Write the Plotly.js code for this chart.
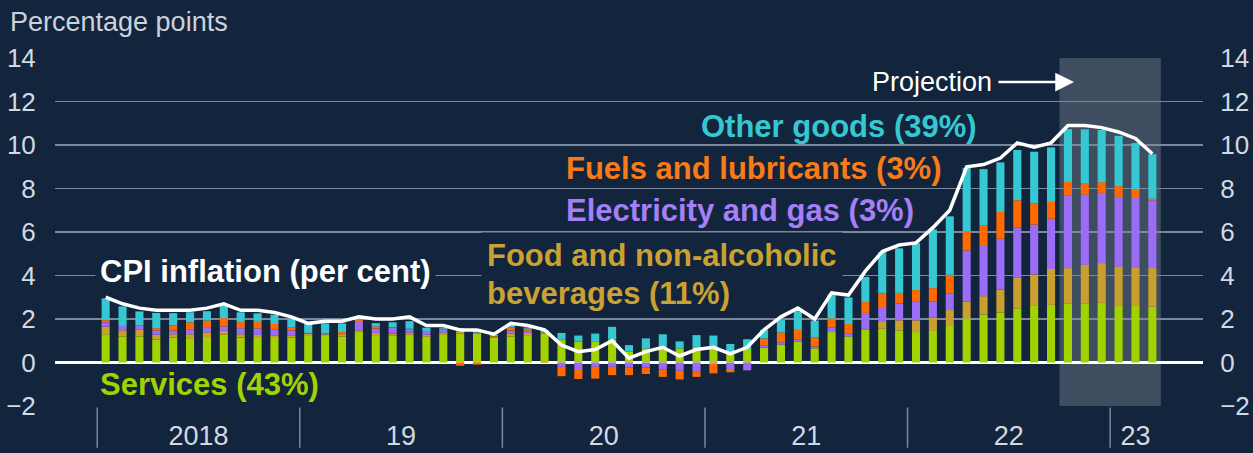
<!DOCTYPE html>
<html><head><meta charset="utf-8">
<script src="https://cdn.plot.ly/plotly-3.0.1.min.js"></script>
<style>html,body{margin:0;padding:0;background:#13243d;}#chart{width:1253px;height:453px;}</style>
</head><body><div id="chart"></div><script>
const months = [
'2018-01','2018-02','2018-03','2018-04','2018-05','2018-06','2018-07','2018-08','2018-09','2018-10','2018-11','2018-12',
'2019-01','2019-02','2019-03','2019-04','2019-05','2019-06','2019-07','2019-08','2019-09','2019-10','2019-11','2019-12',
'2020-01','2020-02','2020-03','2020-04','2020-05','2020-06','2020-07','2020-08','2020-09','2020-10','2020-11','2020-12',
'2021-01','2021-02','2021-03','2021-04','2021-05','2021-06','2021-07','2021-08','2021-09','2021-10','2021-11','2021-12',
'2022-01','2022-02','2022-03','2022-04','2022-05','2022-06','2022-07','2022-08','2022-09','2022-10','2022-11','2022-12',
'2023-01','2023-02','2023-03'];
const cpi = [
3.0,2.7,2.5,2.4,2.4,2.4,2.5,2.7,2.4,2.4,2.3,2.1,
1.8,1.9,1.9,2.1,2.0,2.0,2.1,1.7,1.7,1.5,1.5,1.3,
1.8,1.7,1.5,0.8,0.5,0.6,1.0,0.2,0.5,0.7,0.3,0.6,
0.7,0.4,0.7,1.5,2.1,2.5,2.0,3.2,3.1,4.2,5.1,5.4,
5.5,6.2,7.0,9.0,9.1,9.4,10.1,9.9,10.1,10.9,10.9,10.8,
10.6,10.3,9.6];
const services = [
1.30,1.20,1.20,1.05,1.15,1.12,1.17,1.28,1.15,1.17,1.17,1.15,
1.22,1.22,1.20,1.40,1.26,1.23,1.28,1.18,1.30,1.32,1.32,1.15,
1.20,1.26,1.34,1.06,0.95,0.95,1.06,0.50,0.65,0.72,0.65,0.72,
0.62,0.45,0.62,0.68,0.83,0.95,0.65,1.40,1.20,1.50,1.55,1.48,
1.40,1.45,1.72,2.03,2.20,2.30,2.49,2.60,2.65,2.72,2.72,2.75,
2.60,2.60,2.57];
const food = [
0.35,0.28,0.30,0.23,0.15,0.18,0.22,0.18,0.15,0.10,0.08,0.10,
0.10,0.08,0.10,0.08,0.10,0.10,0.10,0.10,0.08,0.10,0.05,0.05,
0.12,0.10,0.05,0.00,0.03,0.00,0.00,0.00,0.00,0.00,0.00,0.00,
0.00,0.00,0.00,0.00,0.00,0.00,0.00,0.00,0.00,0.00,0.35,0.46,
0.54,0.60,0.69,0.77,0.85,1.05,1.40,1.45,1.65,1.62,1.77,1.82,
1.82,1.78,1.77];
const elecGas = [
0.20,0.20,0.20,0.20,0.17,0.20,0.20,0.20,0.28,0.30,0.26,0.23,
0.02,0.02,0.00,0.38,0.20,0.28,0.15,0.17,0.15,0.05,0.02,0.00,
0.15,0.10,0.00,-0.20,-0.30,-0.20,-0.20,-0.23,-0.23,-0.32,-0.38,-0.43,
-0.05,-0.30,-0.36,0.10,0.10,0.10,0.08,0.20,0.12,0.78,0.65,0.77,
0.85,0.75,0.77,2.35,2.35,2.34,2.31,2.29,2.31,3.34,3.23,3.23,
3.20,3.18,3.11];
const fuels = [
0.10,0.00,0.00,0.10,0.23,0.35,0.34,0.38,0.28,0.34,0.26,0.14,
0.02,0.03,0.10,0.12,0.10,0.02,0.02,0.00,0.02,-0.15,-0.10,0.02,
0.15,0.10,-0.02,-0.43,-0.46,-0.54,-0.38,-0.35,-0.30,-0.34,-0.40,-0.23,
-0.45,-0.15,0.00,0.32,0.45,0.45,0.43,0.43,0.45,0.50,0.62,0.49,
0.54,0.62,0.85,0.88,0.92,1.23,1.26,0.97,0.77,0.62,0.51,0.49,
0.49,0.38,0.08];
const otherGoods = [
1.00,0.90,0.65,0.70,0.57,0.46,0.43,0.58,0.45,0.35,0.43,0.38,
0.47,0.45,0.40,0.10,0.15,0.22,0.35,0.15,0.05,0.10,0.15,0.05,
0.15,0.05,0.10,0.30,0.26,0.38,0.58,0.30,0.46,0.58,0.32,0.54,
0.62,0.40,0.45,0.40,0.58,0.86,0.77,1.10,1.22,1.15,1.90,2.05,
2.15,2.70,2.69,2.92,2.57,2.28,2.31,2.38,2.51,2.43,2.49,2.40,
2.31,2.15,2.05];
const years = ['2018','2019','2020','2021','2022','2023'];
const yearLabels = ['2018','19','20','21','22','23'];
const projectionStart = '2022-10';

const BG = '#13243d';
const GRID = '#7a889d';
const TICK = '#d3d9e2';
const FONT = 'Liberation Sans, Arial, Helvetica, sans-serif';
const C = {services:'#a2d200', food:'#c9a030', elec:'#9b6cf5', fuels:'#ff6a00', other:'#36c8d2'};

const x = months.map((m,i)=>i);
const yearCenters = years.map(y=>{const idx=x.filter(i=>months[i].startsWith(y));return idx.reduce((a,b)=>a+b,0)/idx.length;});
const yearStarts = years.map(y=>months.findIndex(m=>m.startsWith(y))-0.5);
const projX0 = months.indexOf(projectionStart)-0.5;
const projX1 = months.length-0.5;

function bar(name, y, color){
  return {type:'bar', name, x, y, marker:{color, line:{width:0}}, hoverinfo:'x+y+name', showlegend:false};
}
const traces = [
  bar('Services', services, C.services),
  bar('Food and non-alcoholic beverages', food, C.food),
  bar('Electricity and gas', elecGas, C.elec),
  bar('Fuels and lubricants', fuels, C.fuels),
  bar('Other goods', otherGoods, C.other),
  {type:'scatter', mode:'lines', name:'CPI inflation', x, y:cpi, line:{color:'#ffffff', width:3.5}, showlegend:false},
  {type:'scatter', mode:'lines', x, y:cpi, yaxis:'y2', line:{width:0, color:'rgba(0,0,0,0)'}, hoverinfo:'skip', showlegend:false}
];

const PL=55, PR=1203, PT=58, PB=406;
const px = v => (v-PL)/(PR-PL);
const py = v => (PB-v)/(PB-PT);
const lab = (text, color, left, ymid, opts={}) => Object.assign({
  text, xref:'paper', yref:'paper', x:px(left), y:py(ymid), xanchor:'left', yanchor:'middle',
  showarrow:false, font:{family:FONT, size:31, color, weight:'bold'}
}, opts);

const shapes = [
  {type:'rect', xref:'x', yref:'paper', x0:projX0, x1:projX1, y0:0, y1:1, fillcolor:'rgba(255,255,255,0.19)', line:{width:0}, layer:'below'}
].concat(yearStarts.map(v=>({type:'line', xref:'x', yref:'paper', x0:v, x1:v, y0:-0.004, y1:-0.12, line:{color:GRID, width:1.5}})));

const annotations = [
  lab('Other goods (39%)', C.other, 699, 126),
  lab('Fuels and lubricants (3%)', '#f77b16', 564, 168),
  lab('Electricity and gas (3%)', '#a47ff6', 564, 210),
  lab('Food and non-alcoholic', '#caa232', 481, 255, {bgcolor:BG, borderpad:5}),
  lab('beverages (11%)', '#caa232', 484, 293, {bgcolor:BG, borderpad:2}),
  lab('CPI inflation (per cent)', '#ffffff', 95, 271, {bgcolor:BG, borderpad:4}),
  lab('Services (43%)', C.services, 98, 384),
  {text:'Projection', xref:'paper', yref:'paper', x:px(1074), y:py(82), showarrow:true, ax:-142, ay:0,
   arrowhead:2, arrowsize:1.5, arrowwidth:2.5, arrowcolor:'#ffffff', standoff:0, borderpad:6,
   font:{family:FONT, size:27, color:'#ffffff'}}
];

const yax = {range:[-2,14], dtick:2, tick0:0, showgrid:true, gridcolor:GRID, gridwidth:1.5,
  zeroline:true, zerolinecolor:'#ffffff', zerolinewidth:2.5, layer:'above traces',
  ticks:'outside', ticklen:13, tickcolor:'rgba(0,0,0,0)', tickfont:{family:FONT, size:26, color:TICK},
  showline:false, fixedrange:true};

const layout = {
  width:1253, height:453, margin:{l:PL, r:1253-PR, t:PT, b:453-PB},
  paper_bgcolor:BG, plot_bgcolor:BG,
  barmode:'relative', bargap:0.52,
  title:{text:'Percentage points', xref:'container', yref:'container', x:10/1253, xanchor:'left', y:1-22/453, yanchor:'middle',
         font:{family:FONT, size:27, color:'#ccd3dc'}},
  xaxis:{range:[-3,65], tickmode:'array', tickvals:yearCenters, ticktext:yearLabels, showgrid:false, zeroline:false,
         ticks:'outside', ticklen:6, tickcolor:'rgba(0,0,0,0)', tickfont:{family:FONT, size:27, color:TICK}, showline:false, fixedrange:true},
  yaxis:yax,
  yaxis2:Object.assign({}, yax, {overlaying:'y', side:'right', showgrid:false, zeroline:false, ticklen:11}),
  shapes, annotations, showlegend:false
};
Plotly.newPlot('chart', traces, layout, {displayModeBar:false, staticPlot:true});
</script></body></html>
